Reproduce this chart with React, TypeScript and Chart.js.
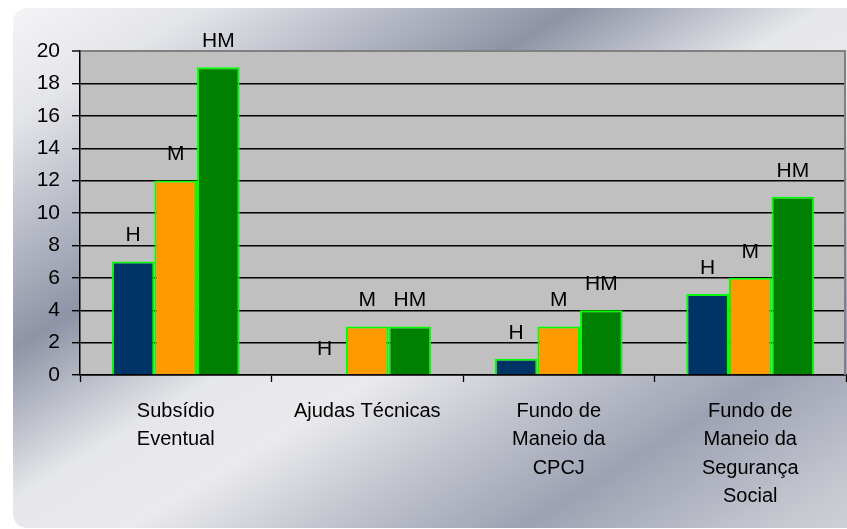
import React, { useEffect, useRef } from "react";
import { Chart, registerables } from "chart.js";

Chart.register(...registerables);

const categories: string[][] = [
  ["Subsídio", "Eventual"],
  ["Ajudas Técnicas"],
  ["Fundo de", "Maneio da", "CPCJ"],
  ["Fundo de", "Maneio da", "Segurança", "Social"],
];
const seriesNames = ["H", "M", "HM"];
const hValues = [7, 0, 1, 5];
const mValues = [12, 3, 3, 6];
const hmValues = [19, 3, 4, 11];
const yTicks = [0, 2, 4, 6, 8, 10, 12, 14, 16, 18, 20];

const FONT = "'Liberation Sans', Arial, Helvetica, sans-serif";

const bgPlugin = {
  id: "bgPlugin",
  beforeDraw(chart: any) {
    const { ctx, chartArea } = chart;
    ctx.save();
    ctx.fillStyle = "#ffffff";
    ctx.fillRect(0, 0, chart.width, chart.height);
    const g = ctx.createLinearGradient(0, 0, 310 * 1.55, 510 * 1.55);
    g.addColorStop(0, "#f6f6f8");
    g.addColorStop(0.12, "#e4e5e9");
    g.addColorStop(0.33, "#8e94a6");
    g.addColorStop(0.47, "#e6e7ea");
    g.addColorStop(0.56, "#eaeaed");
    g.addColorStop(0.66, "#c4c7cf");
    g.addColorStop(0.78, "#9da2b3");
    g.addColorStop(0.92, "#c6c8d0");
    g.addColorStop(1, "#d4d6dc");
    ctx.fillStyle = g;
    ctx.beginPath();
    ctx.roundRect(13, 8, chart.width + 20, chart.height - 9, [14, 0, 0, 14]);
    ctx.fill();
    ctx.fillStyle = "#c0c0c0";
    ctx.fillRect(chartArea.left, chartArea.top, chartArea.right - chartArea.left, chartArea.bottom - chartArea.top);
    ctx.restore();
  },
  beforeDatasetsDraw(chart: any) {
    const { ctx, chartArea } = chart;
    ctx.save();
    ctx.strokeStyle = "#808080";
    ctx.lineWidth = 2;
    ctx.beginPath();
    ctx.moveTo(chartArea.right - 1, chartArea.top);
    ctx.lineTo(chartArea.right - 1, chartArea.bottom);
    ctx.stroke();
    ctx.restore();
  },
};

const labelPlugin = {
  id: "labelPlugin",
  afterDatasetsDraw(chart: any) {
    const { ctx } = chart;
    ctx.save();
    ctx.font = `21px ${FONT}`;
    ctx.fillStyle = "#000000";
    ctx.textAlign = "center";
    ctx.textBaseline = "middle";
    chart.data.datasets.forEach((ds: any, i: number) => {
      const meta = chart.getDatasetMeta(i);
      meta.data.forEach((el: any) => {
        ctx.fillText(ds.label, el.x, el.y - 26);
      });
    });
    ctx.restore();
  },
};

export default function App() {
  const ref = useRef<HTMLCanvasElement | null>(null);
  useEffect(() => {
    if (!ref.current) return;
    const common = {
      borderColor: "#00ff00",
      borderWidth: 2,
      categoryPercentage: 0.667,
      barPercentage: 1.0,
    };
    const chart = new Chart(ref.current, {
      type: "bar",
      data: {
        labels: categories,
        datasets: [
          { label: seriesNames[0], data: hValues, backgroundColor: "#003366", ...common },
          { label: seriesNames[1], data: mValues, backgroundColor: "#ff9900", ...common },
          { label: seriesNames[2], data: hmValues, backgroundColor: "#008000", ...common },
        ],
      },
      options: {
        responsive: false,
        animation: false,
        layout: { padding: { left: 0, right: 1, top: 51, bottom: 0 } },
        plugins: { legend: { display: false }, tooltip: { enabled: false } },
        scales: {
          x: {
            afterFit(scale: any) {
              scale.height = 154;
            },
            grid: {
              display: true,
              offset: true,
              drawOnChartArea: false,
              drawTicks: true,
              tickLength: 7,
              tickColor: "#000000",
              tickWidth: 1.3,
            },
            border: { display: true, color: "#000000", width: 1.5 },
            ticks: {
              color: "#000000",
              font: { family: FONT, size: 20, lineHeight: 1.425 },
              padding: 15,
              maxRotation: 0,
              autoSkip: false,
            },
          },
          y: {
            min: 0,
            max: 20,
            afterFit(scale: any) {
              scale.width = 80;
            },
            afterBuildTicks(scale: any) {
              scale.ticks = yTicks.map((v) => ({ value: v }));
            },
            grid: {
              color: (c: any) => (c.tick && c.tick.value === 20 ? "#808080" : "#000000"),
              lineWidth: (c: any) => (c.tick && c.tick.value === 20 ? 2 : 1.4),
              tickColor: "#000000",
              tickLength: 8,
              tickWidth: 1.4,
            },
            border: { display: true, color: "#000000", width: 1.5 },
            ticks: {
              color: "#000000",
              font: { family: FONT, size: 21 },
              padding: 12,
            },
          },
        },
      },
      plugins: [bgPlugin, labelPlugin],
    } as any);
    return () => chart.destroy();
  }, []);
  return (
    <div style={{ position: "absolute", left: 0, top: 0, width: 847, height: 529 }}>
      <canvas ref={ref} width={847} height={529} style={{ display: "block" }} />
    </div>
  );
}
